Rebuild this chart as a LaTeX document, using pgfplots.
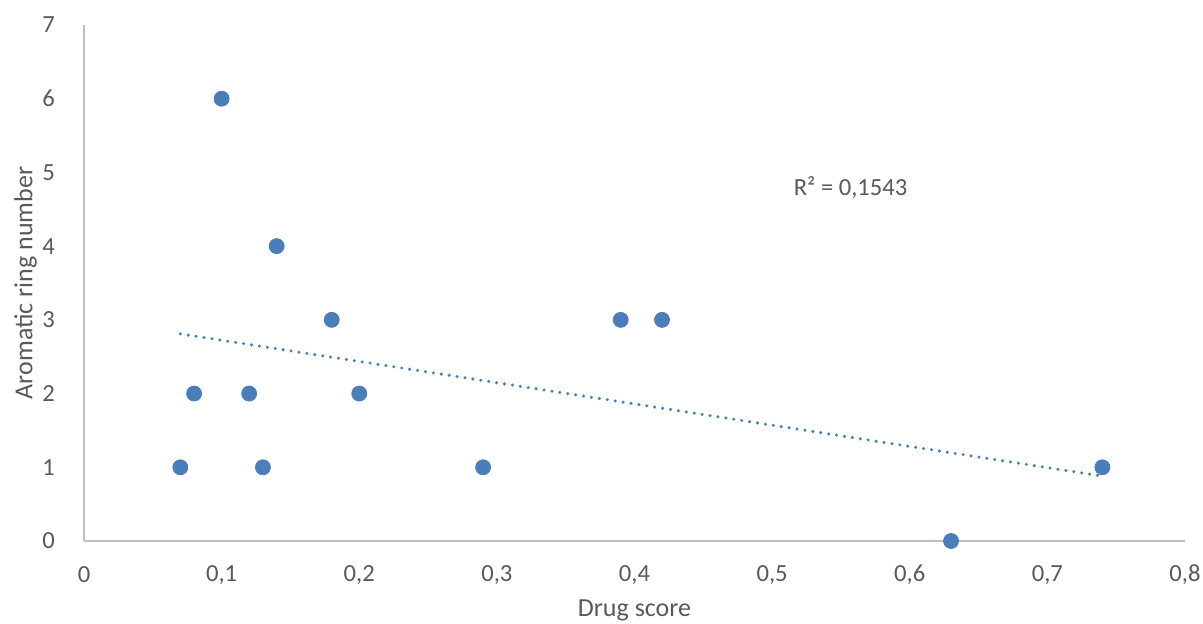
\documentclass[border=0pt]{standalone}
\usepackage{pgfplots}
\pgfplotsset{compat=1.18}
\usepackage{fontspec}
\setmainfont{Carlito}
\definecolor{dotblue}{HTML}{4A7EBB}
\definecolor{txtgray}{HTML}{595959}
\definecolor{axgray}{HTML}{BFBFBF}
\begin{document}
\begin{tikzpicture}
\path[use as bounding box] (0,0) rectangle (601.5pt,312pt);
\begin{axis}[
  at={(42pt,41.5pt)}, anchor=south west,
  scale only axis, width=550.5pt, height=258pt,
  xmin=0, xmax=0.8, ymin=0, ymax=7,
  axis x line=bottom, axis y line=left,
  axis line style={axgray, line width=0.8pt, -},
  xtick={0,0.1,...,0.8}, ytick={0,1,...,7},
  major tick length=0pt,
  /pgf/number format/use comma,
  /pgf/number format/assume math mode=true,
  xticklabel style={font=\fontsize{12.3}{14}\selectfont, text=txtgray, anchor=center, yshift=-17pt},
  yticklabel style={font=\fontsize{12.3}{14}\selectfont, text=txtgray, anchor=east, xshift=-11pt},
  xlabel={Drug score}, ylabel={Aromatic ring number},
  xlabel style={font=\fontsize{13}{15}\selectfont, text=txtgray, at={(axis description cs:0.5,-0.134)}, anchor=center},
  ylabel style={font=\fontsize{13}{15}\selectfont, text=txtgray, at={(axis description cs:-0.053,0.5)}, anchor=center, rotate=0},
  clip=false,
]
\addplot[dotblue, line width=1.7pt, dash pattern=on 0pt off 4pt, line cap=round] coordinates {(0.07,2.81) (0.74,0.88)};
\addplot[only marks, mark=*, mark size=3.75pt, mark options={fill=dotblue, draw=dotblue}] coordinates {
(0.07,1) (0.08,2) (0.10,6) (0.12,2) (0.13,1) (0.14,4) (0.18,3) (0.20,2) (0.29,1) (0.39,3) (0.42,3) (0.63,0) (0.74,1)
};
\node[font=\fontsize{12.3}{14}\selectfont, text=txtgray] at (axis cs:0.557,4.8) {R² = 0,1543};
\end{axis}
\end{tikzpicture}
\end{document}
